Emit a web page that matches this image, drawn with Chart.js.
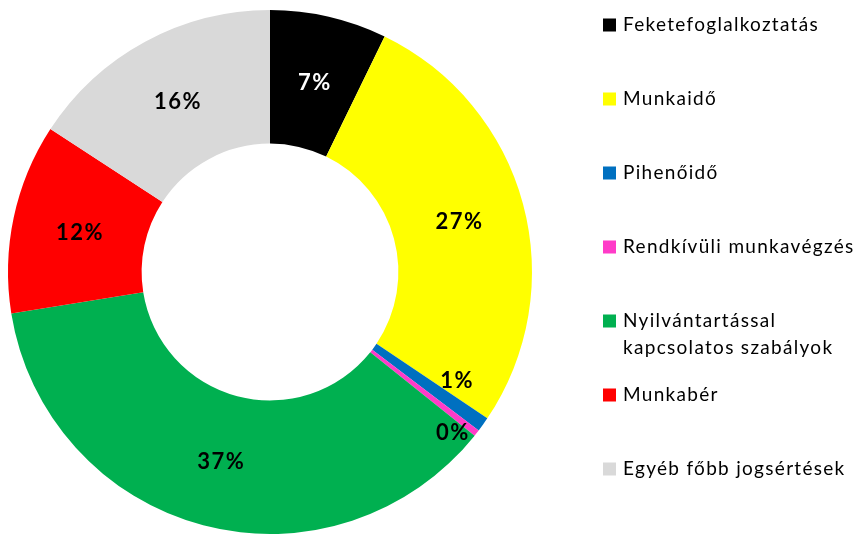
<!DOCTYPE html>
<html>
<head>
<meta charset="utf-8">
<script src="https://cdn.jsdelivr.net/npm/chart.js@4"></script>
<style>
  html, body { margin: 0; padding: 0; background: #fff; }
  #wrap { width: 857px; height: 536px; position: relative; }
</style>
</head>
<body>
<div id="wrap"><canvas id="chart" width="857" height="536"></canvas></div>
<script>
// categories and shares (%)
const categories = [
  'Feketefoglalkoztatás',
  'Munkaidő',
  'Pihenőidő',
  'Rendkívüli munkavégzés',
  'Nyilvántartással\nkapcsolatos szabályok',
  'Munkabér',
  'Egyéb főbb jogsértések'
];
const shares = [7.2, 27.2, 0.9, 0.4, 36.7, 11.7, 15.8];
const colors = ['#000000', '#FFFF00', '#0070C0', '#FF3BC8', '#00B050', '#FF0000', '#D9D9D9'];
const labelColors = ['#FFFFFF', '#000', '#000', '#000', '#000', '#000', '#000'];

// small slices: labels pushed a bit (degrees / px) so they don't collide
const labelNudge = { 2: { da: -5.5, dr: 20 }, 3: { da: 3.4, dr: 47 } };

const FONT = 'Lato, "Open Sans", sans-serif';

const sliceLabels = {
  id: 'sliceLabels',
  afterDatasetsDraw(chart) {
    const ctx = chart.ctx;
    const meta = chart.getDatasetMeta(0);
    ctx.save();
    ctx.font = 'bold 22px ' + FONT;
    ctx.letterSpacing = '1.5px';
    ctx.textAlign = 'center';
    ctx.textBaseline = 'middle';
    meta.data.forEach((arc, i) => {
      const p = arc.getProps(['x', 'y', 'startAngle', 'endAngle', 'innerRadius', 'outerRadius'], true);
      const n = labelNudge[i] || { da: 0, dr: 0 };
      const a = (p.startAngle + p.endAngle) / 2 + n.da * Math.PI / 180;
      const r = (p.innerRadius + p.outerRadius) / 2 + n.dr;
      ctx.fillStyle = labelColors[i];
      ctx.fillText(Math.round(shares[i]) + '%', p.x + Math.cos(a) * r + 1, p.y + Math.sin(a) * r + 1);
    });
    ctx.restore();
  }
};

const sideLegend = {
  id: 'sideLegend',
  afterDraw(chart) {
    const ctx = chart.ctx;
    ctx.save();
    ctx.font = '19px ' + FONT;
    ctx.letterSpacing = '1.3px';
    ctx.textBaseline = 'middle';
    ctx.textAlign = 'left';
    categories.forEach((c, i) => {
      const y = 25 + i * 74;
      ctx.fillStyle = colors[i];
      ctx.fillRect(603, y - 6.5, 13, 13);
      ctx.fillStyle = '#000';
      c.split('\n').forEach((line, j) => ctx.fillText(line, 623, y + j * 27));
    });
    ctx.restore();
  }
};

new Chart(document.getElementById('chart'), {
  type: 'doughnut',
  data: {
    labels: categories,
    datasets: [{
      data: shares,
      backgroundColor: colors,
      borderWidth: 0
    }]
  },
  options: {
    responsive: false,
    animation: false,
    cutout: '49%',
    layout: { padding: { left: 8, right: 325, top: 10, bottom: 2 } },
    plugins: {
      legend: { display: false },
      tooltip: { enabled: false }
    }
  },
  plugins: [sliceLabels, sideLegend]
});
</script>
</body>
</html>
